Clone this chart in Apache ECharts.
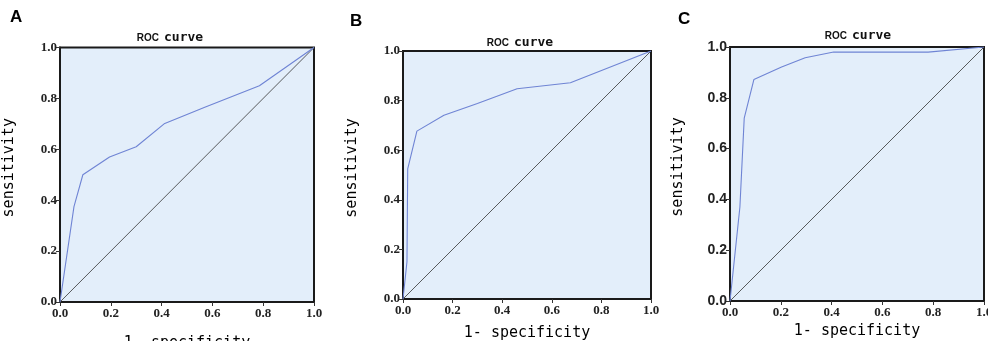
<!DOCTYPE html>
<html>
<head>
<meta charset="utf-8">
<script src="https://cdn.jsdelivr.net/npm/echarts@6/dist/echarts.min.js"></script>
<style>html,body{margin:0;padding:0;background:#fff;}#c{width:988px;height:341px;}</style>
</head>
<body>
<div id="c"></div>
<script>
// Data
var panelLetters = ['A', 'B', 'C'];
var xTicks = [0, 0.2, 0.4, 0.6, 0.8, 1.0];
var fprA = [0, 0.055, 0.09, 0.195, 0.30, 0.41, 0.57, 0.785, 1];
var tprA = [0, 0.375, 0.50, 0.57, 0.61, 0.70, 0.765, 0.85, 1];
var fprB = [0, 0.016, 0.019, 0.056, 0.165, 0.30, 0.46, 0.675, 1];
var tprB = [0, 0.15, 0.525, 0.677, 0.741, 0.788, 0.848, 0.872, 1];
var fprC = [0, 0.039, 0.056, 0.094, 0.203, 0.296, 0.408, 0.78, 1];
var tprC = [0, 0.37, 0.72, 0.872, 0.921, 0.958, 0.98, 0.98, 1];
var refX = [0, 1];
var refY = [0, 1];

function pairs(xs, ys) { return xs.map(function (x, i) { return [x, ys[i]]; }); }

var grids = [
  {left: 60, top: 47.5, width: 254, height: 254.5},
  {left: 403, top: 51, width: 248, height: 248},
  {left: 730, top: 47, width: 254, height: 254}
];
var xNameGap = [34, 27, 23];
var yNameGap = [43, 43, 44];
var yLabelFont = ['Liberation Serif', 'Liberation Serif', 'Liberation Sans'];
var yLabelSize = [13, 13, 14];
var titlePos = [[170, 29], [520, 34], [858, 27]];
var letterPos = [[17, 18], [357, 22], [685, 20]];
var curves = [pairs(fprA, tprA), pairs(fprB, tprB), pairs(fprC, tprC)];

var option = {
  animation: false,
  backgroundColor: '#ffffff',
  title: titlePos.map(function (p) {
    return {
      text: '{a|ROC} {b|curve}',
      left: p[0], top: p[1], textAlign: 'center', padding: 0,
      textStyle: {
        rich: {
          a: {fontFamily: 'Liberation Sans', fontSize: 10, color: '#111'},
          b: {fontFamily: 'DejaVu Sans Mono', fontWeight: 'bold', fontSize: 13, color: '#111'}
        }
      }
    };
  }),
  graphic: letterPos.map(function (p, i) {
    return {
      type: 'text', left: p[0] - 7, top: p[1] - 9,
      style: {text: panelLetters[i], font: 'bold 17px "Liberation Sans"', fill: '#000'}
    };
  }),
  grid: grids.map(function (g) {
    return Object.assign({show: true, backgroundColor: '#E3EEFA', borderColor: '#1a1a1a', borderWidth: 2,
      containLabel: false, outerBoundsMode: 'none'}, g);
  }),
  xAxis: grids.map(function (g, i) {
    return {
      type: 'value', gridIndex: i, min: 0, max: 1, interval: 0.2,
      name: '1- specificity', nameLocation: 'middle', nameGap: xNameGap[i],
      nameTextStyle: {fontFamily: 'DejaVu Sans Mono', fontSize: 15, color: '#000'},
      axisLine: {show: true, lineStyle: {color: '#1a1a1a', width: 2}},
      axisTick: {show: true, inside: false, length: 4, lineStyle: {color: '#333'}},
      splitLine: {show: false},
      axisLabel: {fontFamily: 'Liberation Serif', fontWeight: 'bold', fontSize: 13, color: '#222', margin: 5,
        hideOverlap: false, showMinLabel: true, showMaxLabel: true,
        formatter: function (v) { return v.toFixed(1); }}
    };
  }),
  yAxis: grids.map(function (g, i) {
    return {
      type: 'value', gridIndex: i, min: 0, max: 1, interval: 0.2,
      name: 'sensitivity', nameLocation: 'middle', nameGap: yNameGap[i], nameRotate: 90,
      nameTextStyle: {fontFamily: 'DejaVu Sans Mono', fontSize: 15, color: '#000', padding: [0, 0, 0, 14]},
      axisLine: {show: true, lineStyle: {color: '#1a1a1a', width: 2}},
      axisTick: {show: true, inside: false, length: 4, lineStyle: {color: '#333'}},
      splitLine: {show: false},
      axisLabel: {fontFamily: yLabelFont[i], fontWeight: 'bold', fontSize: yLabelSize[i], color: '#222', margin: 3,
        showMinLabel: true, showMaxLabel: true,
        formatter: function (v) { return v.toFixed(1); }}
    };
  }),
  series: []
};
grids.forEach(function (g, i) {
  option.series.push({
    type: 'line', xAxisIndex: i, yAxisIndex: i, data: pairs(refX, refY),
    showSymbol: false, symbol: 'none', lineStyle: {color: '#333', width: 0.8}, z: 2
  });
  option.series.push({
    type: 'line', xAxisIndex: i, yAxisIndex: i, data: curves[i],
    showSymbol: false, symbol: 'none', lineStyle: {color: '#6F84D4', width: 1.1}, z: 3
  });
});

var chart = echarts.init(document.getElementById('c'), null, {renderer: 'canvas'});
chart.setOption(option);
</script>
</body>
</html>
